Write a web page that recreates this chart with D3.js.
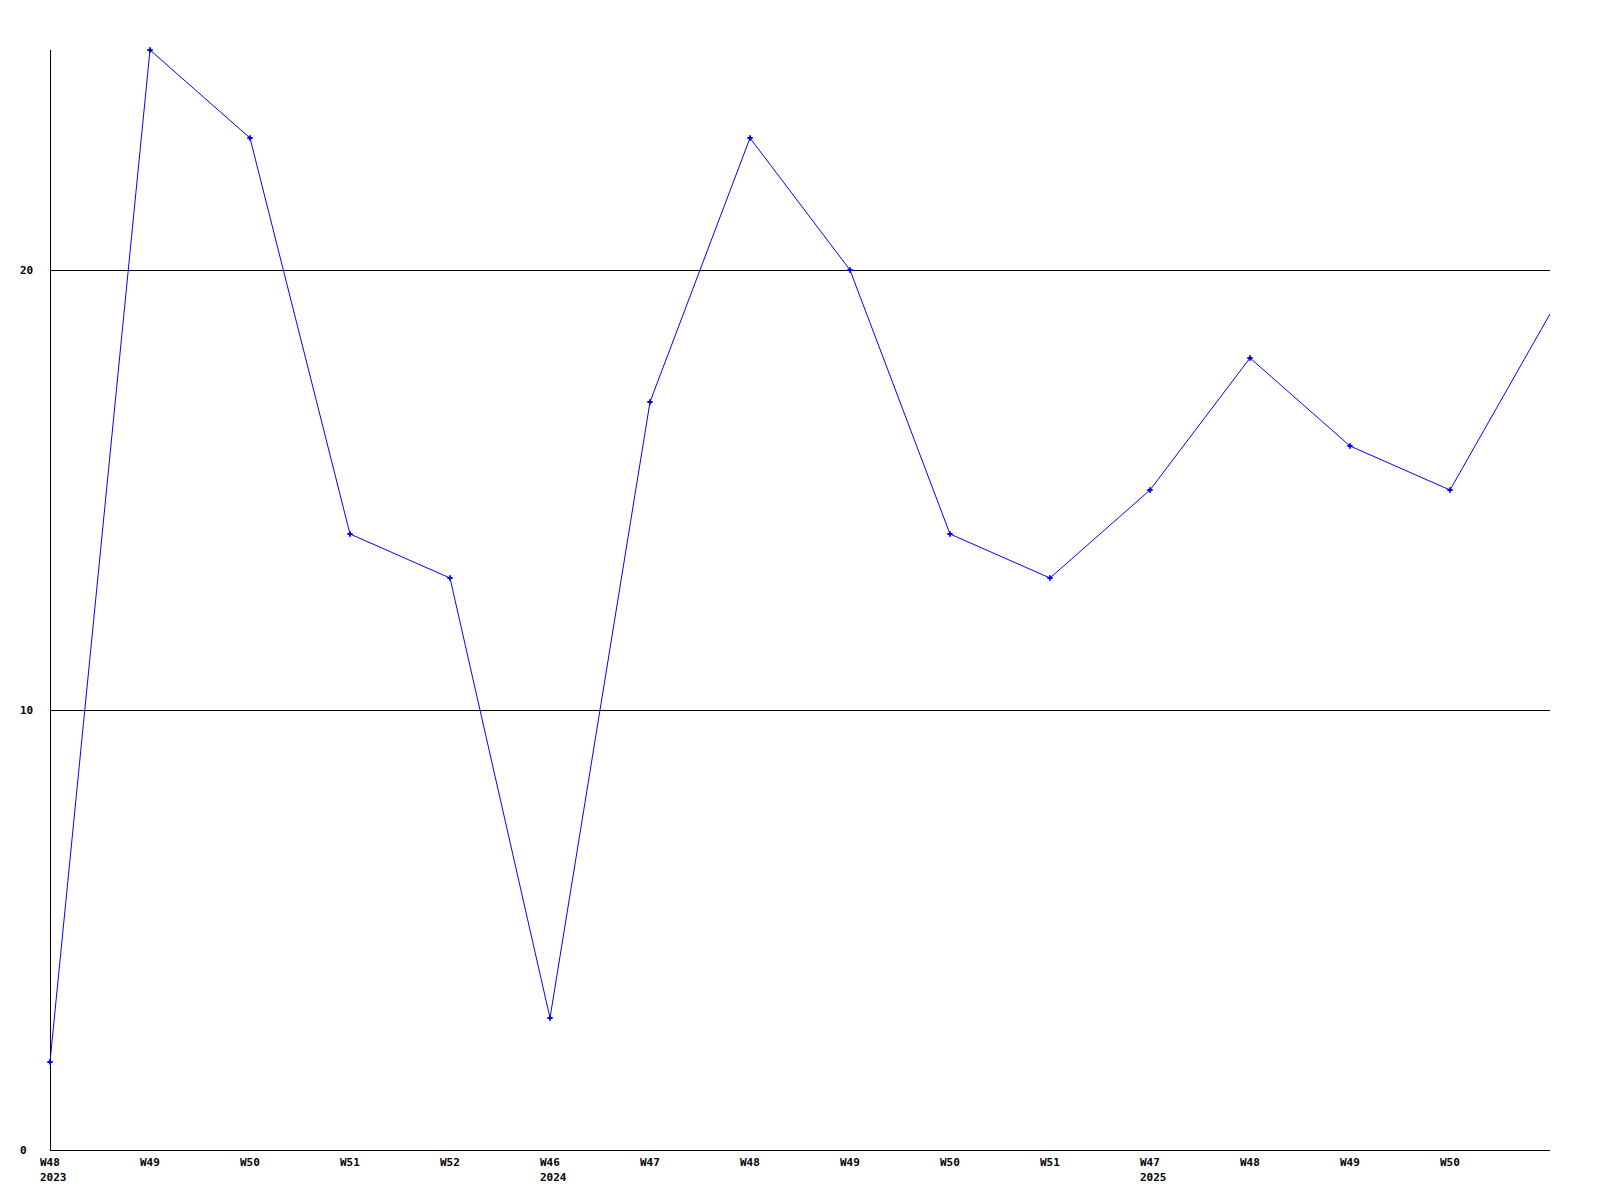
<!DOCTYPE html>
<html><head><meta charset="utf-8">
<script src="https://cdn.jsdelivr.net/npm/d3@7"></script>
<style>body{margin:0;background:#fff}svg{display:block}</style>
</head><body>
<script>
const weeks = ["W48","W49","W50","W51","W52","W46","W47","W48","W49","W50","W51","W47","W48","W49","W50","W51"];
const years = ["2023","","","","","2024","","","","","","2025","","","",""];
const showTick = [1,1,1,1,1,1,1,1,1,1,1,1,1,1,1,0];
const values = [2,25,23,14,13,3,17,23,20,14,13,15,18,16,15,19];
const yTicks = [0,10,20];

const W=1600,H=1200, m={l:50,r:50,t:50,b:50};
const svg=d3.select("body").append("svg").attr("width",W).attr("height",H);
const x=d3.scaleLinear().domain([0,values.length-1]).range([m.l,W-m.r]);
const y=d3.scaleLinear().domain([0,25]).range([H-m.b,m.t]);
const font='"DejaVu Sans Mono", monospace';

// grid lines
svg.append("g").selectAll("line").data(yTicks.filter(d=>d>0)).join("line")
  .attr("x1",m.l).attr("x2",W-m.r).attr("y1",d=>y(d)+0.5).attr("y2",d=>y(d)+0.5)
  .attr("stroke","#000").attr("stroke-width",1);
// y labels
svg.append("g").selectAll("text").data(yTicks).join("text")
  .attr("x",20).attr("y",d=>y(d)).attr("dy","0.35em")
  .attr("font-family",font).attr("font-weight","bold").attr("font-size",11).text(d=>d);
// axes
svg.append("line").attr("x1",m.l+0.5).attr("x2",m.l+0.5).attr("y1",m.t).attr("y2",H-m.b).attr("stroke","#000");
svg.append("line").attr("x1",m.l).attr("x2",W-m.r).attr("y1",H-m.b+0.5).attr("y2",H-m.b+0.5).attr("stroke","#000");
// x labels
const idx=d3.range(values.length).filter(i=>showTick[i]);
svg.append("g").selectAll("text").data(idx).join("text")
  .attr("x",i=>x(i)-10).attr("y",H-m.b+16)
  .attr("font-family",font).attr("font-weight","bold").attr("font-size",11).text(i=>weeks[i]);
svg.append("g").selectAll("text").data(idx.filter(i=>years[i])).join("text")
  .attr("x",i=>x(i)-10).attr("y",H-m.b+31)
  .attr("font-family",font).attr("font-weight","bold").attr("font-size",11).text(i=>years[i]);
// line
svg.append("path").datum(values).attr("fill","none").attr("stroke","#0000ff").attr("stroke-width",1)
  .attr("d",d3.line().x((d,i)=>x(i)).y(d=>y(d)));
// markers
svg.append("g").selectAll("path").data(values.slice(0,-1)).join("path")
  .attr("transform",(d,i)=>`translate(${x(i)},${y(d)})`)
  .attr("d",d3.symbol(d3.symbolCross,16)).attr("fill","#0000ff");
</script>
</body></html>
